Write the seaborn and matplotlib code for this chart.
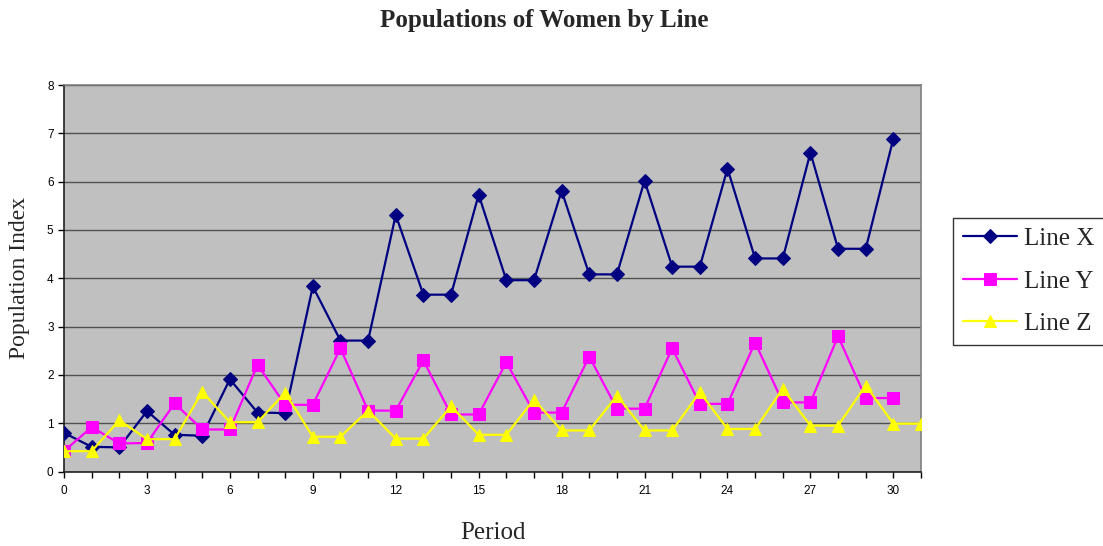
import pandas as pd
import matplotlib
matplotlib.use("Agg")
import matplotlib.pyplot as plt
import seaborn as sns

# values
periods_x = list(range(31))
line_x = [0.80, 0.51, 0.50, 1.25, 0.76, 0.74, 1.91, 1.22, 1.21, 3.83,
          2.71, 2.71, 5.31, 3.66, 3.66, 5.73, 3.96, 3.96, 5.81, 4.08,
          4.08, 6.02, 4.24, 4.24, 6.27, 4.41, 4.41, 6.60, 4.61, 4.61, 6.89]

periods_y = list(range(31))
line_y = [0.42, 0.92, 0.58, 0.59, 1.41, 0.87, 0.87, 2.21, 1.38, 1.38,
          2.55, 1.26, 1.26, 2.30, 1.18, 1.18, 2.26, 1.22, 1.22, 2.38,
          1.30, 1.30, 2.55, 1.40, 1.40, 2.67, 1.43, 1.43, 2.80, 1.52, 1.52]

periods_z = list(range(32))
line_z = [0.42, 0.42, 1.06, 0.67, 0.67, 1.65, 1.02, 1.02, 1.63, 0.72,
          0.72, 1.26, 0.68, 0.68, 1.35, 0.76, 0.76, 1.49, 0.85, 0.85,
          1.57, 0.85, 0.85, 1.64, 0.88, 0.88, 1.71, 0.95, 0.95, 1.78,
          0.99, 0.99]

series_names = ["Line X", "Line Y", "Line Z"]
series_colors = ["#000080", "#FF00FF", "#FFFF00"]
series_markers = ["D", "s", "^"]
marker_sizes = [7, 8.5, 9]

df = pd.concat([
    pd.DataFrame({"Period": periods_x, "Value": line_x, "Series": "Line X"}),
    pd.DataFrame({"Period": periods_y, "Value": line_y, "Series": "Line Y"}),
    pd.DataFrame({"Period": periods_z, "Value": line_z, "Series": "Line Z"}),
], ignore_index=True)

sns.set_style("ticks")
plt.rcParams["font.family"] = ["Liberation Sans", "DejaVu Sans"]

fig = plt.figure(figsize=(11.03, 5.46), dpi=100)
ax = fig.add_axes([64 / 1103, 74.5 / 546, 857 / 1103, 386.5 / 546])
ax.set_facecolor("#C0C0C0")

for name, color, marker, ms in zip(series_names, series_colors, series_markers, marker_sizes):
    sub = df[df["Series"] == name]
    sns.lineplot(data=sub, x="Period", y="Value", ax=ax, color=color,
                 marker=marker, markersize=ms, markeredgecolor=color,
                 linewidth=1.6, label=name, zorder=3)

ax.set_xlim(0, 31)
ax.set_ylim(0, 8)
ax.set_xticks(range(0, 31, 3))
ax.set_xticks(range(0, 32), minor=True)
ax.set_yticks(range(0, 9))
ax.tick_params(axis="both", which="both", direction="out", length=4,
               width=1, colors="black", labelsize=8.5)
ax.tick_params(axis="x", which="major", pad=6)
ax.grid(axis="y", color="#505050", linewidth=1)
ax.set_axisbelow(True)

for side in ["left", "bottom"]:
    ax.spines[side].set_color("#202020")
    ax.spines[side].set_linewidth(1.2)
for side in ["right", "top"]:
    ax.spines[side].set_visible(True)
    ax.spines[side].set_color("#808080")
    ax.spines[side].set_linewidth(1.2)

serif = ["Liberation Serif", "DejaVu Serif"]
ax.set_xlabel("Period", fontsize=18, family=serif, labelpad=18)
ax.set_ylabel("Population Index", fontsize=17, family=serif, labelpad=12)
fig.suptitle("Populations of Women by Line", fontsize=18, fontweight="bold",
             family=serif, x=0.493, y=0.983)

ax.get_legend().remove()
handles, labels = ax.get_legend_handles_labels()
leg = fig.legend(handles, labels, loc="center left",
                 bbox_to_anchor=(953 / 1103, 1 - 281.5 / 546),
                 prop={"family": serif, "size": 18}, frameon=True,
                 fancybox=False, edgecolor="black", handlelength=2.15,
                 borderpad=0.4, labelspacing=0.8, handletextpad=0.3,
                 borderaxespad=0)
leg.get_frame().set_linewidth(1)

fig.savefig("out.png", dpi=100)
